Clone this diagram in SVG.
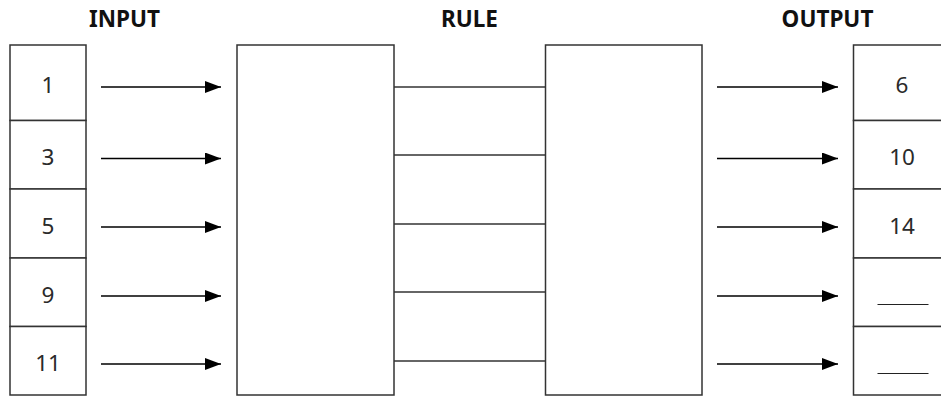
<svg xmlns="http://www.w3.org/2000/svg" width="941" height="396" viewBox="0 0 941 396">
<defs>
<style>
.title{font-family:"Noto Sans","Liberation Sans",sans-serif;font-weight:bold;font-size:22.5px;fill:#111;text-anchor:middle}
.num{font-family:"Noto Sans","Liberation Sans",sans-serif;font-size:22.5px;fill:#2a2a2a;text-anchor:middle;dominant-baseline:central}
.cell{fill:#fff;stroke:#333;stroke-width:1.5}
.box{fill:#fff;stroke:#333;stroke-width:1.5}
.arrow{stroke:#000;stroke-width:1.5;fill:none;marker-end:url(#ah)}
.link{stroke:#333;stroke-width:1.5;fill:none}
</style>
<marker id="ah" markerUnits="userSpaceOnUse" markerWidth="17" markerHeight="12" refX="16" refY="6" orient="auto">
<path d="M0,0 L16,6 L0,12 Z" fill="#000"/>
</marker>
</defs>
<rect width="941" height="396" fill="#fff"/>
<g id="titles">
<text class="title" x="124.5" y="27">INPUT</text>
<text class="title" x="469.5" y="27">RULE</text>
<text class="title" x="827.5" y="27">OUTPUT</text>
</g>
<g id="input">
<rect class="cell" x="10" y="45" width="76" height="75.5"/>
<rect class="cell" x="10" y="120.5" width="76" height="68.5"/>
<rect class="cell" x="10" y="189" width="76" height="69"/>
<rect class="cell" x="10" y="258" width="76" height="68.5"/>
<rect class="cell" x="10" y="326.5" width="76" height="68.5"/>
<text class="num" x="48" y="84.5">1</text>
<text class="num" x="48" y="156">3</text>
<text class="num" x="48" y="225">5</text>
<text class="num" x="48" y="294">9</text>
<text class="num" x="48" y="362.5">11</text>
</g>
<g id="rule1"><rect class="box" x="237" y="45" width="157" height="350"/></g>
<g id="rule2"><rect class="box" x="545.5" y="45" width="156.5" height="350"/></g>
<g id="output">
<rect class="cell" x="853.5" y="45" width="100" height="75.5"/>
<rect class="cell" x="853.5" y="120.5" width="100" height="68.5"/>
<rect class="cell" x="853.5" y="189" width="100" height="69"/>
<rect class="cell" x="853.5" y="258" width="100" height="68.5"/>
<rect class="cell" x="853.5" y="326.5" width="100" height="68.5"/>
<text class="num" x="902" y="84.5">6</text>
<text class="num" x="902" y="156">10</text>
<text class="num" x="902" y="225">14</text>
<line x1="877.5" y1="304.5" x2="928.5" y2="304.5" stroke="#222" stroke-width="1.2"/>
<line x1="877.5" y1="373.5" x2="928.5" y2="373.5" stroke="#222" stroke-width="1.2"/>
</g>
<g id="connectors">
<line class="arrow" x1="101" y1="87" x2="221" y2="87"/>
<line class="arrow" x1="101" y1="158.5" x2="221" y2="158.5"/>
<line class="arrow" x1="101" y1="227" x2="221" y2="227"/>
<line class="arrow" x1="101" y1="296" x2="221" y2="296"/>
<line class="arrow" x1="101" y1="364" x2="221" y2="364"/>
<line class="link" x1="394" y1="87" x2="545.5" y2="87"/>
<line class="link" x1="394" y1="155" x2="545.5" y2="155"/>
<line class="link" x1="394" y1="224" x2="545.5" y2="224"/>
<line class="link" x1="394" y1="292" x2="545.5" y2="292"/>
<line class="link" x1="394" y1="361" x2="545.5" y2="361"/>
<line class="arrow" x1="717" y1="87" x2="838" y2="87"/>
<line class="arrow" x1="717" y1="158.5" x2="838" y2="158.5"/>
<line class="arrow" x1="717" y1="227" x2="838" y2="227"/>
<line class="arrow" x1="717" y1="296" x2="838" y2="296"/>
<line class="arrow" x1="717" y1="364" x2="838" y2="364"/>
</g>
</svg>
